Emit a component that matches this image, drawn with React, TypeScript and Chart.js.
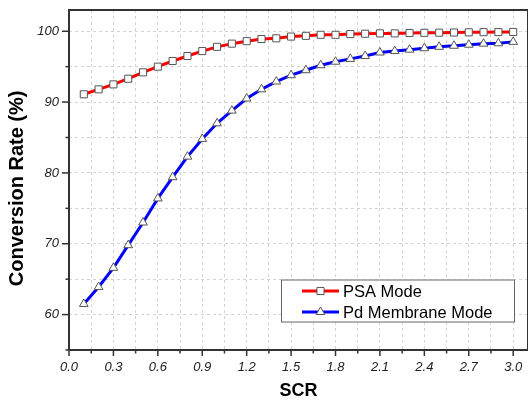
import React, { useEffect, useRef } from "react";
import { Chart, registerables } from "chart.js";

Chart.register(...registerables);

const scrValues = [0.1, 0.2, 0.3, 0.4, 0.5, 0.6, 0.7, 0.8, 0.9, 1.0, 1.1, 1.2, 1.3, 1.4, 1.5, 1.6, 1.7, 1.8, 1.9, 2.0, 2.1, 2.2, 2.3, 2.4, 2.5, 2.6, 2.7, 2.8, 2.9, 3.0];
const psaMode = [91.1, 91.8, 92.5, 93.3, 94.2, 95.0, 95.8, 96.5, 97.2, 97.8, 98.25, 98.6, 98.9, 99.0, 99.25, 99.35, 99.5, 99.5, 99.6, 99.65, 99.7, 99.7, 99.75, 99.78, 99.8, 99.82, 99.85, 99.87, 99.88, 99.9];
const pdMembraneMode = [61.5, 63.9, 66.6, 69.8, 73.0, 76.4, 79.4, 82.3, 84.8, 87.0, 88.8, 90.5, 91.8, 92.9, 93.8, 94.5, 95.2, 95.7, 96.1, 96.5, 97.0, 97.2, 97.4, 97.6, 97.8, 97.95, 98.1, 98.25, 98.3, 98.5];
const seriesNames = ["PSA Mode", "Pd Membrane Mode"];
const seriesColors = ["#ff0000", "#0000ff"];
const markerStyles = ["rect", "triangle"];

const FONT = "'Liberation Sans', Arial, sans-serif";

function drawMarker(ctx: CanvasRenderingContext2D, style: string, x: number, y: number, r: number) {
  ctx.save();
  ctx.fillStyle = "#ffffff";
  ctx.strokeStyle = "#555555";
  ctx.lineWidth = 1;
  ctx.beginPath();
  if (style === "rect") {
    const s = Math.SQRT1_2 * r;
    ctx.rect(x - s, y - s, 2 * s, 2 * s);
  } else {
    ctx.moveTo(x, y - r);
    ctx.lineTo(x - r * 0.866, y + r * 0.5);
    ctx.lineTo(x + r * 0.866, y + r * 0.5);
    ctx.closePath();
  }
  ctx.fill();
  ctx.stroke();
  ctx.restore();
}

const framePlugin = {
  id: "frameAndTicks",
  afterDraw(chart: any) {
    const ctx: CanvasRenderingContext2D = chart.ctx;
    const { left, right, top, bottom } = chart.chartArea;
    const xs = chart.scales.x;
    const ys = chart.scales.y;
    ctx.save();
    ctx.strokeStyle = "#333333";
    ctx.lineWidth = 1.5;
    xs.ticks.forEach((t: any) => {
      const v = t.value;
      const major = Math.round(v * 100) % 30 === 0;
      const px = xs.getPixelForValue(v);
      ctx.beginPath();
      ctx.moveTo(px, bottom);
      ctx.lineTo(px, bottom + (major ? 6 : 3.5));
      ctx.stroke();
    });
    ys.ticks.forEach((t: any) => {
      const v = t.value;
      const major = Math.round(v) % 10 === 0;
      const py = ys.getPixelForValue(v);
      ctx.beginPath();
      ctx.moveTo(left, py);
      ctx.lineTo(left - (major ? 7 : 3.5), py);
      ctx.stroke();
    });
    ctx.lineWidth = 2;
    ctx.beginPath();
    ctx.moveTo(left, bottom);
    ctx.lineTo(left, top);
    ctx.lineTo(right, top);
    ctx.lineTo(right, bottom);
    ctx.lineTo(left, bottom);
    ctx.stroke();

    const bx = 281, by = 279.5, bw = 233, bh = 42;
    ctx.fillStyle = "#ffffff";
    ctx.fillRect(bx, by, bw, bh);
    ctx.strokeStyle = "#666666";
    ctx.lineWidth = 1;
    ctx.strokeRect(bx + 0.5, by + 0.5, bw, bh);
    seriesNames.forEach((name, i) => {
      const ly = 291 + i * 21;
      ctx.strokeStyle = seriesColors[i];
      ctx.lineWidth = 3;
      ctx.beginPath();
      ctx.moveTo(302, ly);
      ctx.lineTo(339, ly);
      ctx.stroke();
      drawMarker(ctx, markerStyles[i], 320.5, ly, 5);
      ctx.fillStyle = "#000000";
      ctx.font = `16.5px ${FONT}`;
      ctx.textBaseline = "middle";
      ctx.textAlign = "left";
      ctx.fillText(name, 343, ly + 1);
    });
    ctx.restore();
  },
};

export default function App() {
  const ref = useRef<HTMLCanvasElement | null>(null);
  useEffect(() => {
    if (!ref.current) return;
    const makeData = (vals: number[]) => scrValues.map((x, i) => ({ x, y: vals[i] }));
    const chart = new Chart(ref.current, {
      type: "line",
      data: {
        datasets: [
          {
            label: seriesNames[0],
            data: makeData(psaMode),
            borderColor: seriesColors[0],
            borderWidth: 3,
            pointStyle: markerStyles[0] as any,
            pointRadius: 5,
            pointBackgroundColor: "#ffffff",
            pointBorderColor: "#555555",
            pointBorderWidth: 1,
            tension: 0,
          },
          {
            label: seriesNames[1],
            data: makeData(pdMembraneMode),
            borderColor: seriesColors[1],
            borderWidth: 3,
            pointStyle: markerStyles[1] as any,
            pointRadius: 5,
            pointBackgroundColor: "#ffffff",
            pointBorderColor: "#555555",
            pointBorderWidth: 1,
            tension: 0,
          },
        ],
      },
      options: {
        animation: false,
        responsive: false,
        maintainAspectRatio: false,
        layout: { autoPadding: false, padding: { top: 10, right: 0, bottom: 0, left: 0 } },
        plugins: { legend: { display: false }, tooltip: { enabled: false } },
        scales: {
          x: {
            type: "linear",
            min: 0,
            max: 3.1,
            border: { display: false, dash: [3, 3] },
            grid: { color: "#d4d4d4", drawTicks: false, lineWidth: 1 },
            ticks: {
              stepSize: 0.15,
              includeBounds: false,
              autoSkip: false,
              maxRotation: 0,
              padding: 10,
              color: "#222222",
              font: { family: FONT, size: 13, style: "italic" },
              callback: (v: any) => (Math.round(Number(v) * 100) % 30 === 0 ? Number(v).toFixed(1) : ""),
            },
            title: {
              display: true,
              text: "SCR",
              color: "#000000",
              font: { family: FONT, size: 18, weight: "bold" },
              padding: { top: 0, bottom: 0 },
            },
            afterFit: (s: any) => {
              s.height = 52;
              s.paddingLeft = 0;
              s.paddingRight = 0;
            },
          },
          y: {
            type: "linear",
            min: 55,
            max: 103,
            border: { display: false, dash: [3, 3] },
            grid: { color: "#d4d4d4", drawTicks: false, lineWidth: 1 },
            ticks: {
              stepSize: 5,
              includeBounds: false,
              autoSkip: false,
              padding: 10,
              color: "#222222",
              font: { family: FONT, size: 13, style: "italic" },
              callback: (v: any) => (Math.round(Number(v)) % 10 === 0 ? String(Math.round(Number(v))) : ""),
            },
            title: {
              display: true,
              text: "Conversion Rate (%)   ",
              color: "#000000",
              font: { family: FONT, size: 20, weight: "bold" },
              padding: { top: 5, bottom: 0 },
            },
            afterFit: (s: any) => {
              s.width = 69;
              s.paddingTop = 0;
              s.paddingBottom = 0;
            },
          },
        },
      },
      plugins: [framePlugin],
    });
    return () => chart.destroy();
  }, []);
  return (
    <div style={{ position: "fixed", left: 0, top: 0, width: 528, height: 402, background: "#ffffff" }}>
      <canvas ref={ref} width={528} height={402} style={{ display: "block" }} />
    </div>
  );
}
